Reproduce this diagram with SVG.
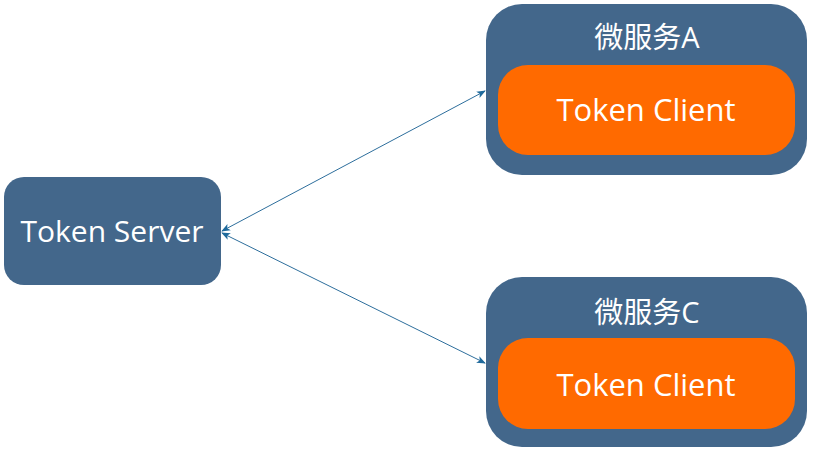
<svg xmlns="http://www.w3.org/2000/svg" width="816" height="452" viewBox="0 0 816 452">
<defs>
<style>
.box{fill:#43678b;}
.inner{fill:#ff6a00;}
.t{font-family:"Open Sans","Noto Sans CJK SC",sans-serif;fill:#ffffff;text-anchor:middle;}
.server{font-size:30px;}
.client{font-size:31px;}
.title{font-size:29px;}
.conn{stroke:#2d6e9c;stroke-width:1;fill:none;}
</style>
<marker id="ah" viewBox="0 0 10 10" refX="9" refY="5" markerWidth="9" markerHeight="9" orient="auto-start-reverse" markerUnits="userSpaceOnUse">
<path d="M0,1 L10,5 L0,9 L2.5,5 Z" fill="#1f6a9c"/>
</marker>
</defs>
<rect width="816" height="452" fill="#ffffff"/>
<g id="connectors">
<line class="conn" x1="222" y1="231" x2="485" y2="91" marker-start="url(#ah)" marker-end="url(#ah)"/>
<line class="conn" x1="222" y1="233" x2="485" y2="363" marker-start="url(#ah)" marker-end="url(#ah)"/>
</g>
<g id="token-server">
<rect class="box" x="4" y="177" width="217" height="108" rx="20"/>
<text class="t server" x="112" y="242">Token Server</text>
</g>
<g id="service-a">
<rect class="box" x="486" y="4" width="321" height="171" rx="36"/>
<text class="t title" x="647" y="48">微服务A</text>
<g id="client-a">
<rect class="inner" x="498" y="65" width="297" height="90" rx="30"/>
<text class="t client" x="646" y="121">Token Client</text>
</g>
</g>
<g id="service-c">
<rect class="box" x="486" y="277" width="321" height="170" rx="36"/>
<text class="t title" x="647" y="323">微服务C</text>
<g id="client-c">
<rect class="inner" x="498" y="338" width="297" height="91" rx="30"/>
<text class="t client" x="646" y="396">Token Client</text>
</g>
</g>
</svg>
